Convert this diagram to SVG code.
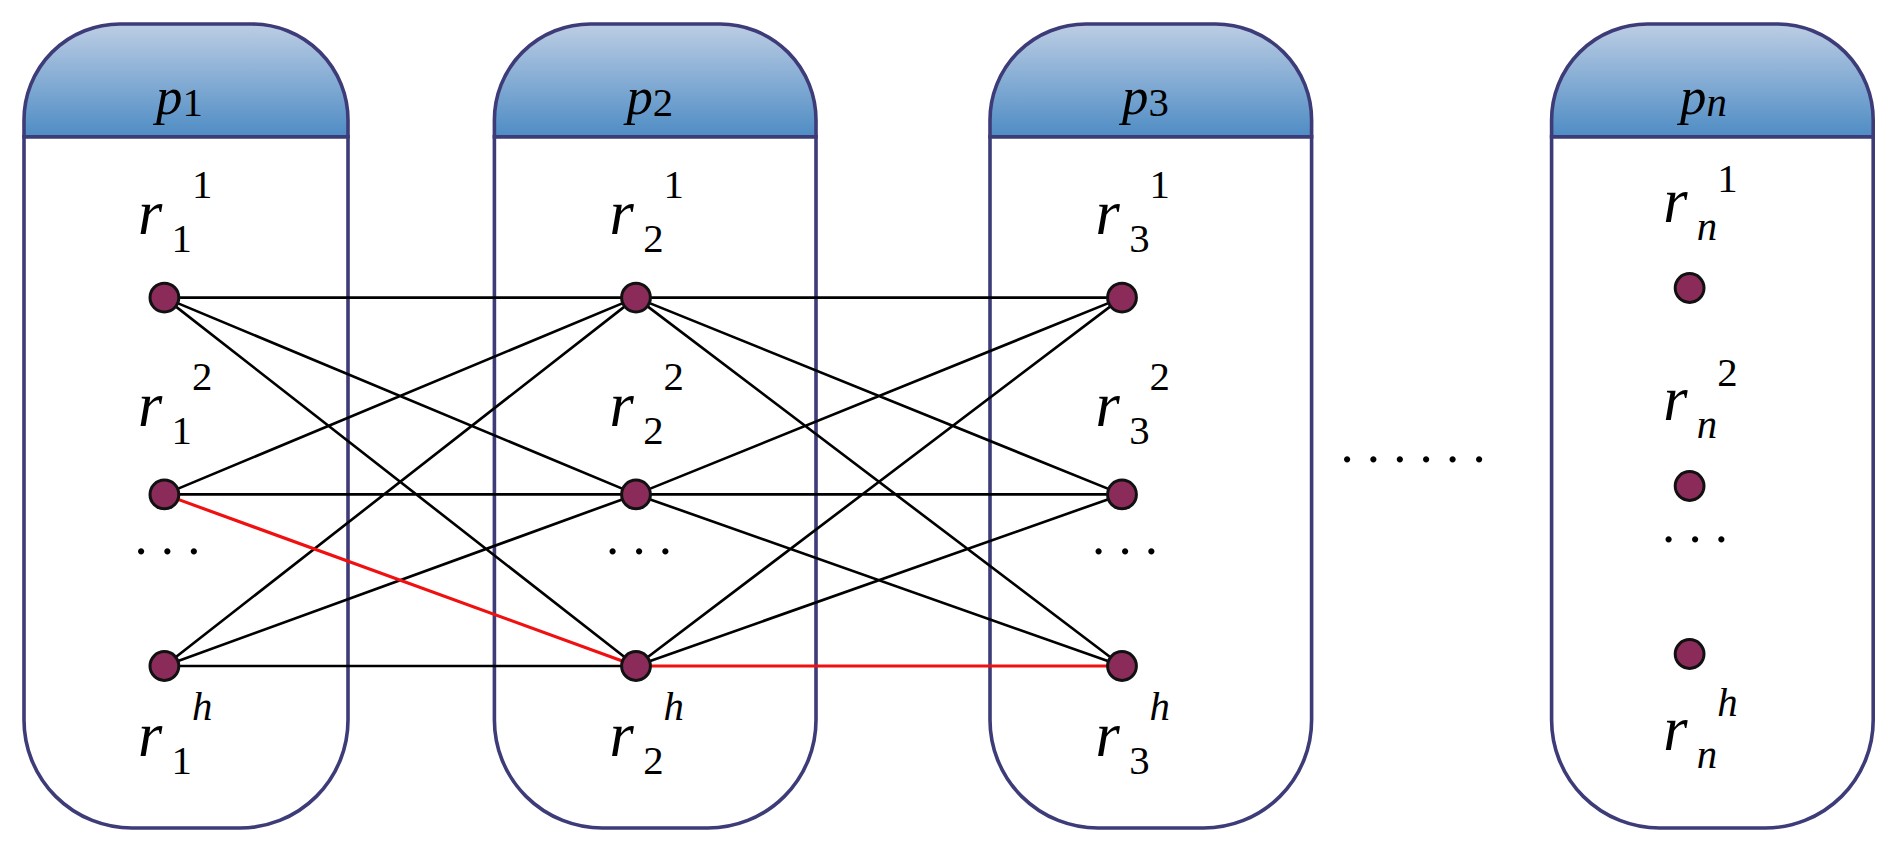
<svg xmlns="http://www.w3.org/2000/svg" width="1882" height="848" viewBox="0 0 1882 848">
<defs>
<linearGradient id="hg" x1="0" y1="0" x2="0" y2="1"><stop offset="0" stop-color="#bccde4"/><stop offset="1" stop-color="#4e8cc4"/></linearGradient>
<style>
.box{fill:#fff;stroke:#3d3c78;stroke-width:3}
.hd{fill:url(#hg);stroke:#3d3c78;stroke-width:3}
.n{fill:#8b2b5a;stroke:#111;stroke-width:2.5}
.e{stroke:#000;stroke-width:2.2;fill:none}
.r{stroke:#f01010;stroke-width:2.6;fill:none}
text{font-family:"Liberation Serif",serif;font-style:italic;fill:#000}
.big{font-size:52px}
.sm{font-size:34px;font-style:normal}
.it{font-size:34px;font-style:italic}
.dots{font-size:44px;font-style:normal}
</style>
</defs>
<g transform="scale(1.2)">
<g id="p1"><path class="box" d="M20 114 V600 A90 90 0 0 0 110 690 H200 A90 90 0 0 0 290 600 V114 Z"/><path class="hd" d="M20 114 V100 A80 80 0 0 1 100 20 H210 A80 80 0 0 1 290 100 V114 Z"/><text x="130" y="95" font-size="44">p<tspan class="sm" dy="2">1</tspan></text></g>
<g id="p2"><path class="box" d="M412 114 V600 A90 90 0 0 0 502 690 H590 A90 90 0 0 0 680 600 V114 Z"/><path class="hd" d="M412 114 V100 A80 80 0 0 1 492 20 H600 A80 80 0 0 1 680 100 V114 Z"/><text x="522" y="95" font-size="44">p<tspan class="sm" dy="2">2</tspan></text></g>
<g id="p3"><path class="box" d="M825 114 V600 A90 90 0 0 0 915 690 H1003 A90 90 0 0 0 1093 600 V114 Z"/><path class="hd" d="M825 114 V100 A80 80 0 0 1 905 20 H1013 A80 80 0 0 1 1093 100 V114 Z"/><text x="935" y="95" font-size="44">p<tspan class="sm" dy="2">3</tspan></text></g>
<g id="pn"><path class="box" d="M1293 114 V600 A90 90 0 0 0 1383 690 H1471 A90 90 0 0 0 1561 600 V114 Z"/><path class="hd" d="M1293 114 V100 A80 80 0 0 1 1373 20 H1481 A80 80 0 0 1 1561 100 V114 Z"/><text x="1400" y="95" font-size="44">p<tspan class="it" dy="2">n</tspan></text></g>
<g id="connectors">
<path class="e" d="M137 248 L530 248 M137 248 L530 412 M137 248 L530 555 M137 412 L530 248 M137 412 L530 412 M137 555 L530 248 M137 555 L530 412 M137 555 L530 555"/>
<path class="r" d="M137 412 L530 555"/>
<path class="e" d="M530 248 L935 248 M530 248 L935 412 M530 248 L935 555 M530 412 L935 248 M530 412 L935 412 M530 412 L935 555 M530 555 L935 248 M530 555 L935 412"/>
<path class="r" d="M530 555 L935 555"/>
</g>
<g id="nodes">
<circle class="n" cx="137" cy="248" r="12"/><circle class="n" cx="137" cy="412" r="12"/><circle class="n" cx="137" cy="555" r="12"/>
<circle class="n" cx="530" cy="248" r="12"/><circle class="n" cx="530" cy="412" r="12"/><circle class="n" cx="530" cy="555" r="12"/>
<circle class="n" cx="935" cy="248" r="12"/><circle class="n" cx="935" cy="412" r="12"/><circle class="n" cx="935" cy="555" r="12"/>
<circle class="n" cx="1408" cy="240" r="12"/><circle class="n" cx="1408" cy="405" r="12"/><circle class="n" cx="1408" cy="545" r="12"/>
</g>
<g id="labels">
<text class="big" x="115" y="195">r</text><text class="sm" x="160" y="165">1</text><text class="sm" x="143" y="210">1</text>
<text class="big" x="115" y="355">r</text><text class="sm" x="160" y="325">2</text><text class="sm" x="143" y="370">1</text>
<text class="big" x="115" y="630">r</text><text class="it" x="160" y="600">h</text><text class="sm" x="143" y="645">1</text>
<text class="big" x="508" y="195">r</text><text class="sm" x="553" y="165">1</text><text class="sm" x="536" y="210">2</text>
<text class="big" x="508" y="355">r</text><text class="sm" x="553" y="325">2</text><text class="sm" x="536" y="370">2</text>
<text class="big" x="508" y="630">r</text><text class="it" x="553" y="600">h</text><text class="sm" x="536" y="645">2</text>
<text class="big" x="913" y="195">r</text><text class="sm" x="958" y="165">1</text><text class="sm" x="941" y="210">3</text>
<text class="big" x="913" y="355">r</text><text class="sm" x="958" y="325">2</text><text class="sm" x="941" y="370">3</text>
<text class="big" x="913" y="630">r</text><text class="it" x="958" y="600">h</text><text class="sm" x="941" y="645">3</text>
<text class="big" x="1386" y="185">r</text><text class="sm" x="1431" y="160">1</text><text class="it" x="1414" y="200">n</text>
<text class="big" x="1386" y="350">r</text><text class="sm" x="1431" y="322">2</text><text class="it" x="1414" y="365">n</text>
<text class="big" x="1386" y="625">r</text><text class="it" x="1431" y="597">h</text><text class="it" x="1414" y="640">n</text>
<text class="dots" x="112" y="462">. . .</text><text class="dots" x="505" y="462">. . .</text><text class="dots" x="910" y="462">. . .</text><text class="dots" x="1385" y="452">. . .</text>
<text class="dots" x="1117" y="385">. . . . . .</text>
</g>
</g>
</svg>
